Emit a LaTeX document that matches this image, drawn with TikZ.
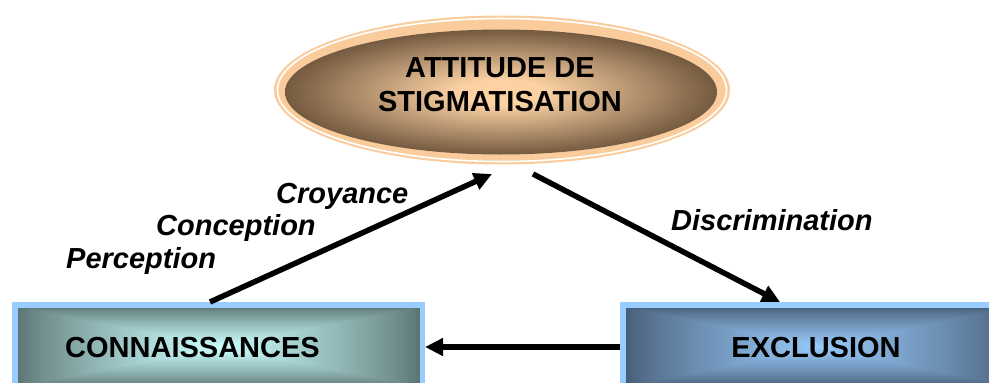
\documentclass[tikz,border=0pt]{standalone}
\usepackage{fontspec}
\setmainfont{Liberation Sans}
\usetikzlibrary{shapes.geometric,arrows.meta,calc}
\definecolor{peach}{RGB}{250,204,156}
\definecolor{brownedge}{RGB}{116,90,64}
\definecolor{browncenter}{RGB}{252,210,164}
\definecolor{lblue}{RGB}{153,204,255}
\definecolor{tealedge}{RGB}{92,118,116}
\definecolor{tealcenter}{RGB}{204,255,255}
\definecolor{blueedge}{RGB}{72,94,120}
\definecolor{bluecenter}{RGB}{152,202,250}
\pgfdeclareradialshading{brownrad}{\pgfpoint{0bp}{0bp}}{color(0bp)=(browncenter); color(5bp)=(browncenter); color(25bp)=(brownedge); color(50bp)=(brownedge)}
\newcommand\myrectgrad[4]{%
  \foreach \i in {0,...,60}{%
    \pgfmathsetmacro\ff{0.5*\i/60}%
    \pgfmathsetmacro\pp{100*(\i/60)^0.8}%
    \fill[fill=#4!\pp!#3] ($(#1)!\ff!(#2)$) rectangle ($(#2)!\ff!(#1)$);
  }}
\begin{document}
\begin{tikzpicture}[x=1pt,y=-1pt,
  boxframe/.style={rectangle, fill=lblue, inner sep=0, outer sep=0},
  boxtext/.style={font=\fontsize{29}{32}\selectfont\bfseries, inner sep=0},
  lab/.style={font=\fontsize{29}{30}\selectfont\bfseries\itshape, inner sep=0, anchor=base west},
  conn/.style={line width=5.5pt, -{Triangle[length=18pt,width=17pt]}},
  ell/.style={ellipse, inner sep=0, outer sep=0}]
\useasboundingbox (0,0) rectangle (989,383);
\clip (0,0) rectangle (989,383);
% ellipse
\node[ell, fill=peach, minimum width=456, minimum height=149] (ring) at (502,90) {};
\node[ell, draw=white, line width=1.6pt, minimum width=449, minimum height=143] (ringline) at (502,90) {};
\node[ell, shading=brownrad, minimum width=432, minimum height=125] (ell) at (501,92) {};
\node[boxtext, align=center, font=\fontsize{29}{34}\selectfont\bfseries] (att) at (500,85) {ATTITUDE DE\\STIGMATISATION};
% boxes
\node[boxframe, minimum width=413, minimum height=90] (connbox) at (218.5,347) {};
\coordinate (c1) at ($(connbox.north west)+(5.5,5.5)$);
\coordinate (c2) at ($(connbox.south east)+(-5.5,-5.5)$);
\myrectgrad{c1}{c2}{tealedge}{tealcenter}
\node[boxframe, minimum width=400, minimum height=90] (exclbox) at (820,347) {};
\coordinate (e1) at ($(exclbox.north west)+(5.5,5.5)$);
\coordinate (e2) at ($(exclbox.south east)+(-5.5,-5.5)$);
\myrectgrad{e1}{e2}{blueedge}{bluecenter}
\node[boxtext] (conntext) at (192.5,348) {CONNAISSANCES};
\node[boxtext] (excltext) at (816,348) {EXCLUSION};
% labels
\node[lab] (croy) at (276,203) {Croyance};
\node[lab] (conc) at (156,235) {Conception};
\node[lab] (perc) at (66,268) {Perception};
\node[lab] (disc) at (671,230) {Discrimination};
% arrows
\coordinate (t1) at (492,174);
\coordinate (s2) at (533,174);
\draw[conn] ([xshift=-8.5pt]connbox.north) -- (t1);
\draw[conn] (s2) -- ([xshift=-40pt]exclbox.north);
\draw[conn] (exclbox.west) -- (connbox.east);
\end{tikzpicture}
\end{document}
